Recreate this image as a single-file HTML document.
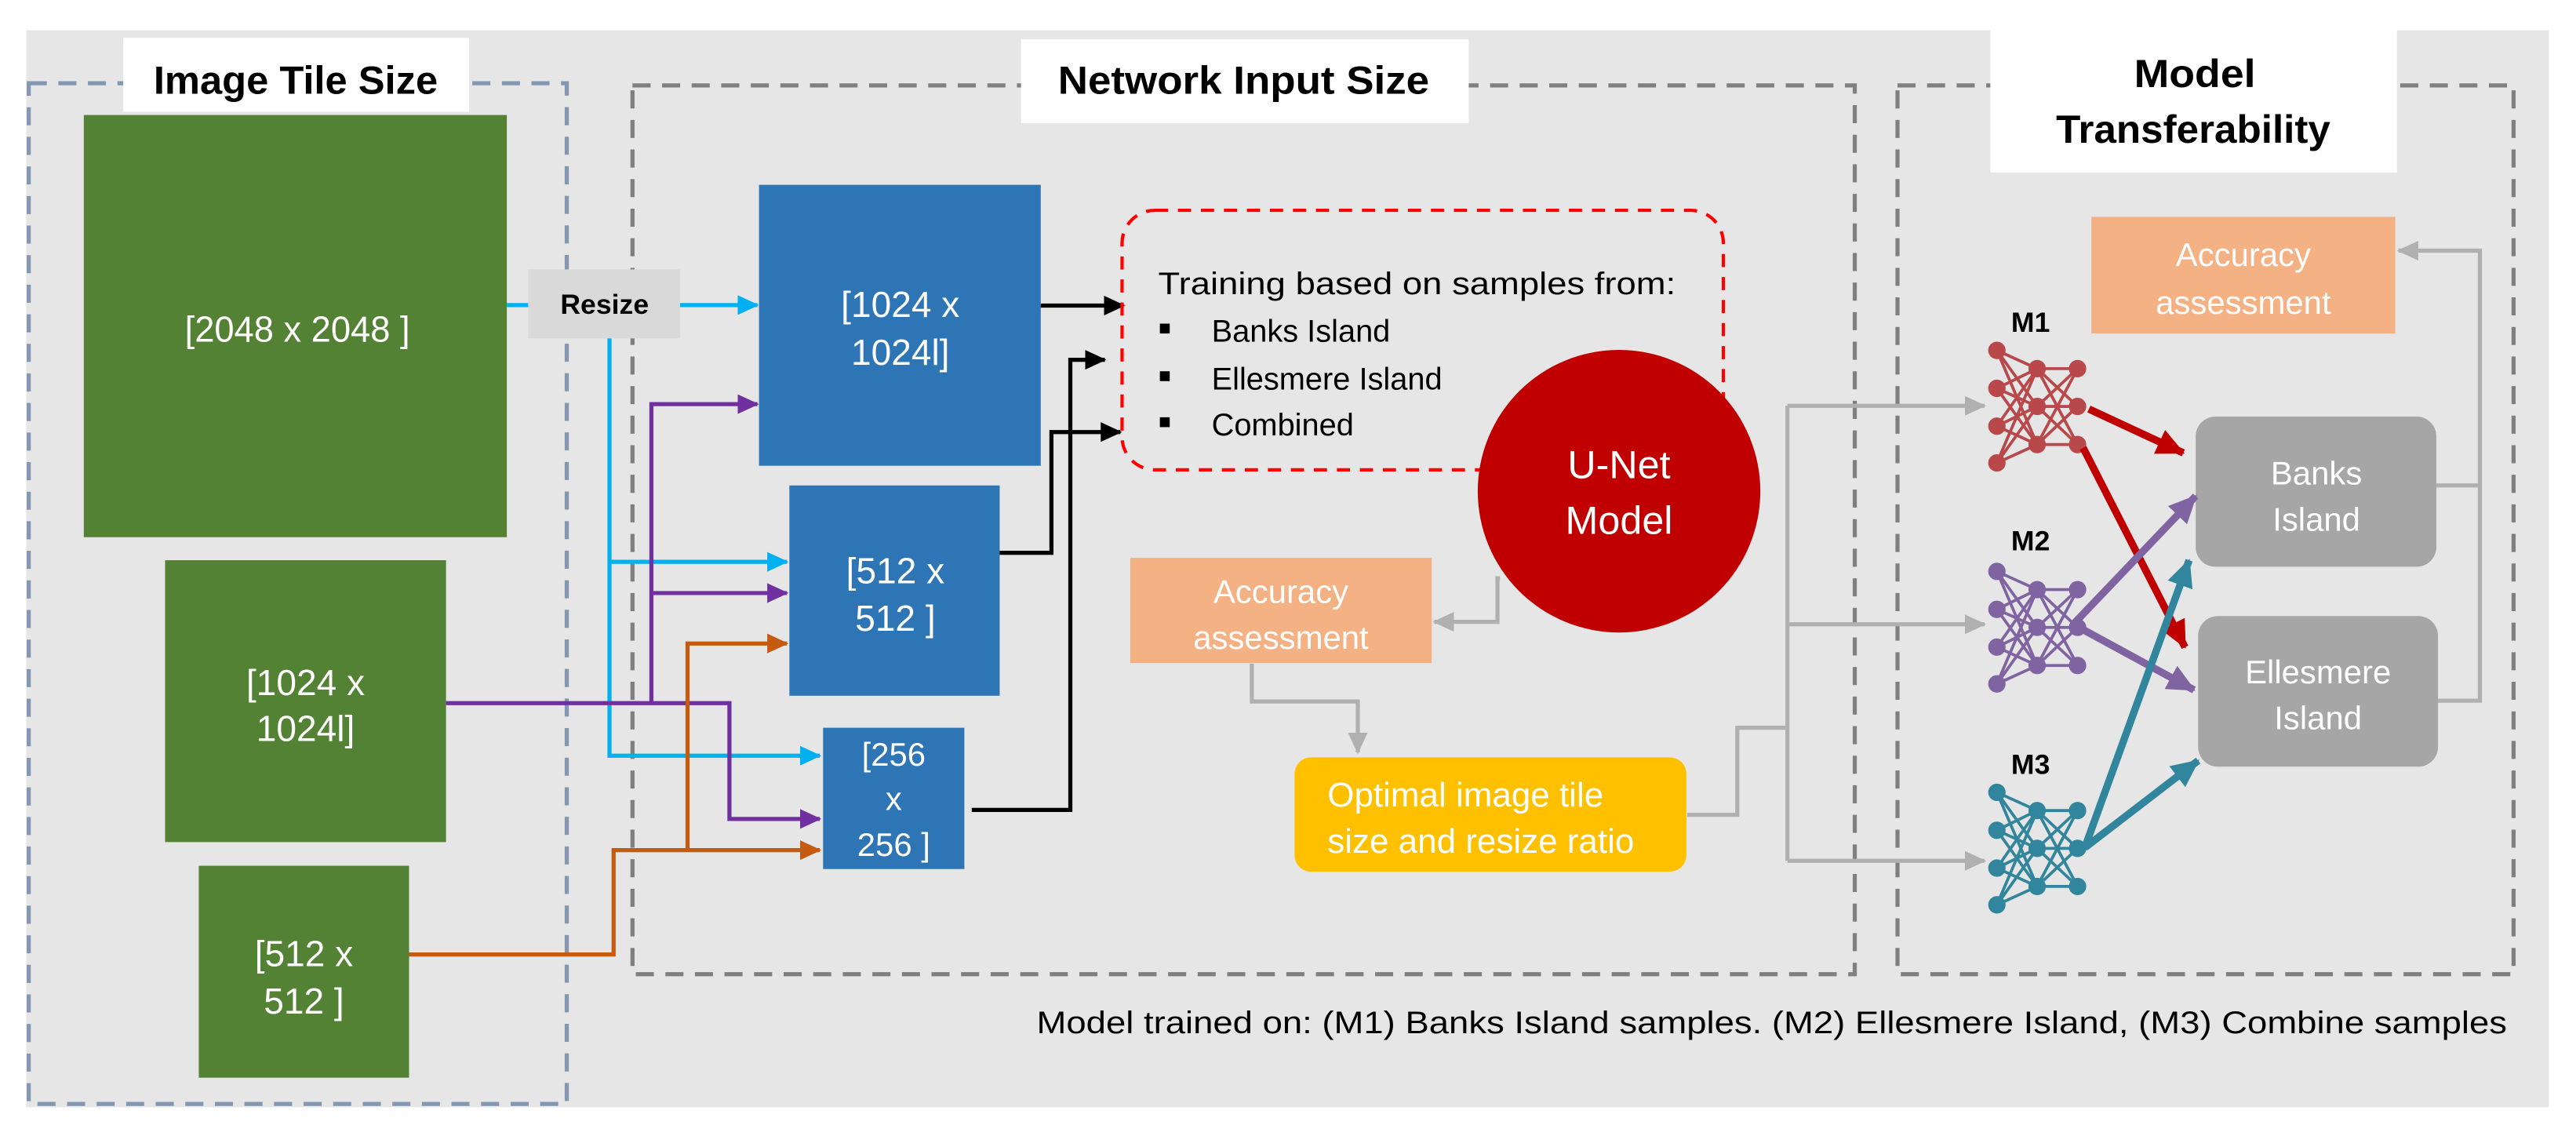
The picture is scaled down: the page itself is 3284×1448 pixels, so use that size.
<!DOCTYPE html>
<html><head><meta charset="utf-8"><style>
html,body{margin:0;padding:0;background:#fff}
svg{display:block}
text{font-family:"Liberation Sans",sans-serif}
</style></head><body>
<svg width="3284" height="1448" viewBox="0 0 1568 691.5" preserveAspectRatio="none" xmlns="http://www.w3.org/2000/svg">
<defs>
<marker id="ac" markerUnits="userSpaceOnUse" markerWidth="14" markerHeight="12" refX="12" refY="6" orient="auto"><path d="M0,0 L13,6 L0,12 z" fill="#00b0f0"/></marker>
<marker id="ap" markerUnits="userSpaceOnUse" markerWidth="14" markerHeight="12" refX="12" refY="6" orient="auto"><path d="M0,0 L13,6 L0,12 z" fill="#7030a0"/></marker>
<marker id="ao" markerUnits="userSpaceOnUse" markerWidth="14" markerHeight="12" refX="12" refY="6" orient="auto"><path d="M0,0 L13,6 L0,12 z" fill="#c55a11"/></marker>
<marker id="ak" markerUnits="userSpaceOnUse" markerWidth="14" markerHeight="12" refX="12" refY="6" orient="auto"><path d="M0,0 L13,6 L0,12 z" fill="#000"/></marker>
<marker id="ag" markerUnits="userSpaceOnUse" markerWidth="14" markerHeight="12" refX="12" refY="6" orient="auto"><path d="M0,0 L13,6 L0,12 z" fill="#b0b0b0"/></marker>
<marker id="ar" markerUnits="userSpaceOnUse" markerWidth="18" markerHeight="16" refX="16" refY="8" orient="auto"><path d="M0,0 L17,8 L0,16 z" fill="#c00000"/></marker>
<marker id="am" markerUnits="userSpaceOnUse" markerWidth="18" markerHeight="16" refX="16" refY="8" orient="auto"><path d="M0,0 L17,8 L0,16 z" fill="#8064a2"/></marker>
<marker id="at" markerUnits="userSpaceOnUse" markerWidth="18" markerHeight="16" refX="16" refY="8" orient="auto"><path d="M0,0 L17,8 L0,16 z" fill="#31859c"/></marker>
<g id="net">
<g stroke-width="1.8">
<path d="M1215.5,213.3 L1240,224.4 M1215.5,213.3 L1240,247.4 M1215.5,213.3 L1240,270.6 M1215.5,236.4 L1240,224.4 M1215.5,236.4 L1240,247.4 M1215.5,236.4 L1240,270.6 M1215.5,259.4 L1240,224.4 M1215.5,259.4 L1240,247.4 M1215.5,259.4 L1240,270.6 M1215.5,281.8 L1240,224.4 M1215.5,281.8 L1240,247.4 M1215.5,281.8 L1240,270.6 M1240,224.4 L1264.6,224.4 M1240,224.4 L1264.6,247.4 M1240,224.4 L1264.6,270.6 M1240,247.4 L1264.6,224.4 M1240,247.4 L1264.6,247.4 M1240,247.4 L1264.6,270.6 M1240,270.6 L1264.6,224.4 M1240,270.6 L1264.6,247.4 M1240,270.6 L1264.6,270.6"/>
</g>
<circle cx="1215.5" cy="213.3" r="4.8"/><circle cx="1215.5" cy="236.4" r="4.8"/><circle cx="1215.5" cy="259.4" r="4.8"/><circle cx="1215.5" cy="281.8" r="4.8"/>
<circle cx="1240" cy="224.4" r="4.8"/><circle cx="1240" cy="247.4" r="4.8"/><circle cx="1240" cy="270.6" r="4.8"/>
<circle cx="1264.6" cy="224.4" r="4.8"/><circle cx="1264.6" cy="247.4" r="4.8"/><circle cx="1264.6" cy="270.6" r="4.8"/>
</g>
</defs>

<rect x="16" y="18.5" width="1535.5" height="655.5" fill="#e6e6e6"/>

<rect x="17.5" y="50.7" width="327.5" height="621.3" fill="none" stroke="#8497b0" stroke-width="2.5" stroke-dasharray="11,7"/>
<rect x="385" y="52" width="744" height="541" fill="none" stroke="#7f7f7f" stroke-width="2.5" stroke-dasharray="11,7"/>
<rect x="1155" y="52" width="375" height="541" fill="none" stroke="#7f7f7f" stroke-width="2.5" stroke-dasharray="11,7"/>

<rect x="75" y="23" width="210.5" height="45" fill="#fff"/>
<text x="180" y="57" font-size="24" font-weight="bold" text-anchor="middle" textLength="173" lengthAdjust="spacingAndGlyphs">Image Tile Size</text>
<rect x="621.5" y="24" width="272.5" height="51" fill="#fff"/>
<text x="757" y="57" font-size="24" font-weight="bold" text-anchor="middle" textLength="226" lengthAdjust="spacingAndGlyphs">Network Input Size</text>
<rect x="1211.5" y="18.5" width="247.5" height="86.5" fill="#fff"/>
<text x="1336" y="53" font-size="24" font-weight="bold" text-anchor="middle" textLength="74" lengthAdjust="spacingAndGlyphs">Model</text>
<text x="1335" y="87" font-size="24" font-weight="bold" text-anchor="middle" textLength="167" lengthAdjust="spacingAndGlyphs">Transferability</text>

<rect x="51" y="70" width="257.5" height="257" fill="#548235"/>
<text x="181" y="208" font-size="22" fill="#fff" text-anchor="middle" textLength="137" lengthAdjust="spacingAndGlyphs">[2048 x 2048 ]</text>
<rect x="100.5" y="341" width="171" height="171.6" fill="#548235"/>
<text x="186" y="423" font-size="22" fill="#fff" text-anchor="middle">[1024 x</text>
<text x="186" y="451" font-size="22" fill="#fff" text-anchor="middle">1024l]</text>
<rect x="121" y="527" width="128" height="129" fill="#548235"/>
<text x="185" y="588" font-size="22" fill="#fff" text-anchor="middle">[512 x</text>
<text x="185" y="617" font-size="22" fill="#fff" text-anchor="middle">512 ]</text>

<rect x="321.5" y="164" width="92.5" height="42" fill="#d9d9d9"/>
<text x="368" y="191" font-size="17" font-weight="bold" text-anchor="middle">Resize</text>

<rect x="462" y="112.5" width="171.5" height="171" fill="#2e75b6"/>
<text x="548" y="193" font-size="22" fill="#fff" text-anchor="middle">[1024 x</text>
<text x="548" y="222" font-size="22" fill="#fff" text-anchor="middle">1024l]</text>
<rect x="480.5" y="295.5" width="128" height="128" fill="#2e75b6"/>
<text x="545" y="355" font-size="22" fill="#fff" text-anchor="middle">[512 x</text>
<text x="545" y="384" font-size="22" fill="#fff" text-anchor="middle">512 ]</text>
<rect x="501" y="443" width="86" height="86" fill="#2e75b6"/>
<text x="544" y="466" font-size="20" fill="#fff" text-anchor="middle">[256</text>
<text x="544" y="493" font-size="20" fill="#fff" text-anchor="middle">x</text>
<text x="544" y="521" font-size="20" fill="#fff" text-anchor="middle">256 ]</text>

<g stroke="#00b0f0" stroke-width="2.5" fill="none">
<line x1="308.5" y1="185.7" x2="321.5" y2="185.7"/>
<line x1="414" y1="185.7" x2="461" y2="185.7" marker-end="url(#ac)"/>
<polyline points="371,206 371,460 499,460" marker-end="url(#ac)"/>
<line x1="371" y1="342" x2="479" y2="342" marker-end="url(#ac)"/>
</g>
<g stroke="#7030a0" stroke-width="2.5" fill="none">
<polyline points="271.5,428 444,428 444,498.5 499,498.5" marker-end="url(#ap)"/>
<polyline points="396.5,428 396.5,246 461,246" marker-end="url(#ap)"/>
<line x1="396.5" y1="361" x2="479" y2="361" marker-end="url(#ap)"/>
</g>
<g stroke="#c55a11" stroke-width="2.5" fill="none">
<polyline points="249,581 373.5,581 373.5,517.5 499,517.5" marker-end="url(#ao)"/>
<polyline points="418.5,517.5 418.5,391.7 479,391.7" marker-end="url(#ao)"/>
</g>
<g stroke="#000" stroke-width="2.5" fill="none">
<line x1="633.5" y1="186" x2="684" y2="186" marker-end="url(#ak)"/>
<polyline points="608.5,336.5 640,336.5 640,263 682,263" marker-end="url(#ak)"/>
<polyline points="591.5,493 651.5,493 651.5,219 672.5,219" marker-end="url(#ak)"/>
</g>

<rect x="683" y="128" width="366" height="158" rx="20" fill="none" stroke="#ff0000" stroke-width="2" stroke-dasharray="8,6"/>
<text x="705" y="179" font-size="19" textLength="315" lengthAdjust="spacingAndGlyphs">Training based on samples from:</text>
<rect x="706" y="197" width="6" height="6" fill="#000"/>
<rect x="706" y="226" width="6" height="6" fill="#000"/>
<rect x="706" y="254" width="6" height="6" fill="#000"/>
<text x="737.5" y="208" font-size="19">Banks Island</text>
<text x="737.5" y="237" font-size="19">Ellesmere Island</text>
<text x="737.5" y="265" font-size="19">Combined</text>

<circle cx="985.5" cy="299" r="86" fill="#c00000"/>
<text x="985.5" y="291" font-size="24" fill="#fff" text-anchor="middle">U-Net</text>
<text x="985.5" y="325" font-size="24" fill="#fff" text-anchor="middle">Model</text>

<rect x="688" y="339.6" width="183.5" height="64" fill="#f4b183"/>
<text x="779.7" y="367" font-size="20" fill="#fff" text-anchor="middle">Accuracy</text>
<text x="779.7" y="395" font-size="20" fill="#fff" text-anchor="middle">assessment</text>

<g stroke="#b0b0b0" stroke-width="2.5" fill="none">
<polyline points="913,352 911.5,352 911.5,378.5 873,378.5" marker-end="url(#ag)"/>
<polyline points="762,404 762,427 826.5,427 826.5,458" marker-end="url(#ag)"/>
<polyline points="1027,496 1057.5,496 1057.5,443 1088,443"/>
<line x1="1088" y1="247" x2="1088" y2="524"/>
<line x1="1088" y1="247" x2="1208" y2="247" marker-end="url(#ag)"/>
<line x1="1088" y1="380" x2="1208" y2="380" marker-end="url(#ag)"/>
<line x1="1088" y1="524" x2="1208" y2="524" marker-end="url(#ag)"/>
<polyline points="1483,295.5 1509.5,295.5"/>
<polyline points="1484,426.5 1509.5,426.5 1509.5,152.6 1460,152.6" marker-end="url(#ag)"/>
</g>

<rect x="788" y="461" width="238.5" height="69.6" rx="10" fill="#ffc000"/>
<text x="808" y="491" font-size="21" fill="#fff">Optimal image tile</text>
<text x="808" y="519" font-size="21" fill="#fff">size and resize ratio</text>

<text x="1236" y="202" font-size="17" font-weight="bold" text-anchor="middle">M1</text>
<text x="1236" y="335" font-size="17" font-weight="bold" text-anchor="middle">M2</text>
<text x="1236" y="471" font-size="17" font-weight="bold" text-anchor="middle">M3</text>
<use href="#net" fill="#b9484b" stroke="#b9484b"/>
<use href="#net" transform="translate(0,134.5)" fill="#8064a2" stroke="#8064a2"/>
<use href="#net" transform="translate(0,269)" fill="#31859c" stroke="#31859c"/>

<rect x="1273" y="132" width="185" height="71" fill="#f4b183"/>
<text x="1365.5" y="162" font-size="20" fill="#fff" text-anchor="middle">Accuracy</text>
<text x="1365.5" y="191" font-size="20" fill="#fff" text-anchor="middle">assessment</text>

<rect x="1336.5" y="253.6" width="146.5" height="91.4" rx="12" fill="#a6a6a6"/>
<text x="1410" y="295" font-size="20" fill="#fff" text-anchor="middle">Banks</text>
<text x="1410" y="323" font-size="20" fill="#fff" text-anchor="middle">Island</text>
<rect x="1338" y="375" width="146" height="91.7" rx="12" fill="#a6a6a6"/>
<text x="1411" y="416" font-size="20" fill="#fff" text-anchor="middle">Ellesmere</text>
<text x="1411" y="444" font-size="20" fill="#fff" text-anchor="middle">Island</text>

<g stroke-width="4.5" fill="none">
<line x1="1271.5" y1="249" x2="1329" y2="275.7" stroke="#c00000" marker-end="url(#ar)"/>
<line x1="1268" y1="272.6" x2="1330" y2="394" stroke="#c00000" marker-end="url(#ar)"/>
<line x1="1262" y1="380" x2="1336.5" y2="302" stroke="#8064a2" marker-end="url(#am)"/>
<line x1="1262" y1="380" x2="1335.5" y2="420" stroke="#8064a2" marker-end="url(#am)"/>
<line x1="1269" y1="516" x2="1332.5" y2="341" stroke="#31859c" marker-end="url(#at)"/>
<line x1="1269" y1="516" x2="1338" y2="463" stroke="#31859c" marker-end="url(#at)"/>
</g>

<text x="631" y="629" font-size="19" textLength="895" lengthAdjust="spacingAndGlyphs">Model trained on: (M1) Banks Island  samples. (M2) Ellesmere Island, (M3) Combine samples</text>
</svg>
</body></html>
